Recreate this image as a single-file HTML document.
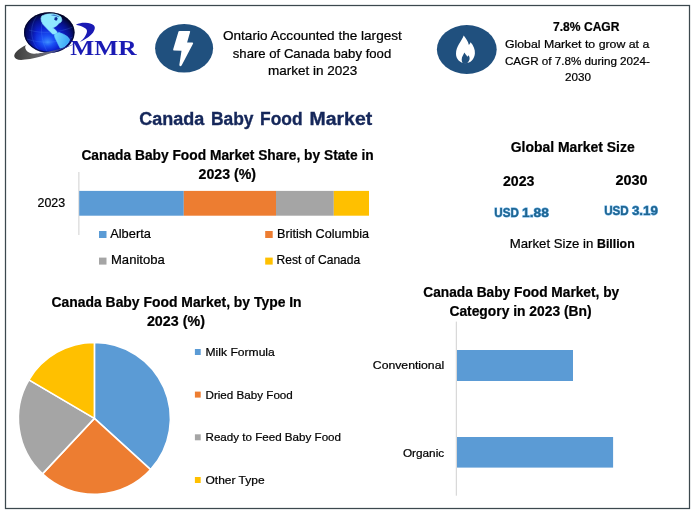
<!DOCTYPE html>
<html>
<head>
<meta charset="utf-8">
<title>Canada Baby Food Market</title>
<style>
html,body{margin:0;padding:0;background:#fff;}
body{width:698px;height:515px;overflow:hidden;}
svg{display:block;}
text{font-family:"Liberation Sans",sans-serif;fill:#000;stroke:#000;stroke-width:0.22px;}
.b{font-weight:bold;}
.serif{font-family:"Liberation Serif",serif;}
</style>
</head>
<body>
<svg width="698" height="515" viewBox="0 0 698 515">
<defs>
<radialGradient id="globe" cx="0.46" cy="0.6" r="0.58" fx="0.47" fy="0.74">
<stop offset="0" stop-color="#3a8cff"/>
<stop offset="0.22" stop-color="#1a50f4"/>
<stop offset="0.5" stop-color="#0c22d2"/>
<stop offset="0.78" stop-color="#07128c"/>
<stop offset="1" stop-color="#02042a"/>
</radialGradient>
<filter id="soft" x="-10%" y="-10%" width="120%" height="120%"><feGaussianBlur stdDeviation="0.35"/></filter>
<linearGradient id="globe2" x1="0" y1="0" x2="1" y2="0">
<stop offset="0" stop-color="#000030" stop-opacity="0.55"/>
<stop offset="0.25" stop-color="#000030" stop-opacity="0"/>
<stop offset="1" stop-color="#000030" stop-opacity="0"/>
</linearGradient>
<linearGradient id="sa" x1="0" y1="0" x2="1" y2="0.3">
<stop offset="0" stop-color="#7adcff"/>
<stop offset="1" stop-color="#3aa8f8"/>
</linearGradient>
<linearGradient id="swoosh" x1="0" y1="0" x2="1" y2="0">
<stop offset="0" stop-color="#3c3c3c"/>
<stop offset="0.3" stop-color="#5a5a5a"/>
<stop offset="0.55" stop-color="#6a6a78"/>
<stop offset="0.75" stop-color="#2a38a0"/>
<stop offset="1" stop-color="#1a2890"/>
</linearGradient>
</defs>
<rect x="0" y="0" width="698" height="515" fill="#ffffff"/>
<rect x="5.5" y="5.5" width="684" height="503" fill="none" stroke="#3c484e" stroke-width="1.25"/>

<!-- logo -->
<g id="logo">
<ellipse cx="49.3" cy="32.5" rx="25.2" ry="20.3" fill="url(#globe)"/>
<ellipse cx="49.3" cy="32.5" rx="25.2" ry="20.3" fill="url(#globe2)"/>
<g fill="none" stroke="#5aa0ff" stroke-width="0.4" opacity="0.5">
<path d="M37 16 C29 26 30 42 40 51"/><path d="M45 13.5 C39 25 41 42 48 53"/><path d="M29 30 C42 34 58 33 73 27"/><path d="M27 39 C40 44 60 43 73 37"/>
</g>
<g filter="url(#soft)">
<path d="M41.9 15.9 L47.0 14.1 L52.6 13.6 L57.3 14.5 L61.0 16.9 L61.9 20.1 L61.0 22.0 L58.7 23.4 L57.3 25.2 L55.4 26.6 L53.6 27.4 L52.4 28.0 L54.7 29.2 L56.5 31.3 L57.3 33.3 L55.9 34.2 L52.6 33.9 L50.3 31.8 L47.9 29.4 L45.6 27.1 L43.0 24.3 L41.4 21.0 L41.0 18.2 Z" fill="#8fe8ff" stroke="#8fe8ff" stroke-width="0.7" stroke-linejoin="round"/>
<path d="M55.9 33.6 L59.1 32.5 L63.8 34.4 L67.5 36.7 L69.6 39.7 L68.6 42.2 L65.9 45.5 L62.9 47.9 L60.3 48.3 L58.7 45.3 L56.9 41.5 L55.0 37.8 L54.3 35.0 Z" fill="url(#sa)" stroke="#5cc8ff" stroke-width="0.7" stroke-linejoin="round"/>
<path d="M54.6 17.4 L56.6 17 L57.6 18.6 L57 20.4 L55.4 20.6 L54.4 19.2 Z" fill="#0e2a96"/>
<path d="M50.5 15 L54 14.6 L57 15.4 L59.4 16.8 L58.6 17.2 L56 16.2 L53 15.8 Z" fill="#2a60c8" opacity="0.8"/>

</g>
<ellipse cx="49.3" cy="32.5" rx="24.7" ry="19.8" fill="none" stroke="#02052a" stroke-width="1.1" opacity="0.75"/>
<path d="M26.3 45 C19 48.5 13.6 53 14.3 56.5 C15 59.6 19 60.4 25 59.6 C32 58.8 38 57.4 42.6 55.9 C50 53.6 58 50.6 64.4 48.2 C68 46.8 72 45 74.2 43.9 C71 45 68 46.2 64.4 47.2 C60 48.6 56 49.8 53.5 50.4 C49 51.6 46 52.4 42.6 52.8 C39 53.4 36 53.8 33.9 53.7 C31 53.5 28.8 52.8 27.4 51.5 C26 50.2 25 48.4 25.2 46.8 C25.4 46 25.8 45.4 26.3 45 Z" fill="url(#swoosh)"/>
</g>
<path d="M75.9 24.7 C79 23.2 82.5 22.6 85.6 22.8 C89 23 92 23.8 93.7 25.3 C95 26.5 95 28 94.6 29.3 C94 31.5 92.5 33.5 90.8 35.1 C88 37.8 84 40.2 79.9 41.9 C82 40.2 84 38.2 85.1 36.2 C86.3 34.4 87 32.6 87 31 C87 29.5 85.8 28.3 83.9 27.4 C81.5 26.2 78.5 25.2 75.9 24.7 Z" fill="#1a1ab4"/>
<text class="serif b" x="70.2" y="55.3" font-size="20.6" textLength="66.4" lengthAdjust="spacingAndGlyphs" style="fill:#1a1ab4;stroke:none">MMR</text>

<!-- lightning icon -->
<ellipse cx="184.1" cy="48.2" rx="29" ry="24.3" fill="#20507e"/>
<path d="M178.5 31.6 Q178.8 31 179.5 31 L189.3 31 Q190.5 31 190.1 32.1 L187.1 42.4 L192.4 42.4 Q193.6 42.6 193 43.8 L181.6 65.4 Q180.6 66.6 179.8 66 Q179.2 65.5 179.4 64.6 L181.5 50.8 L174 50.6 Q172.8 50.4 173.2 49.2 Z" fill="#ffffff"/>

<!-- top text 1 -->
<text x="223" y="40.2" font-size="12.9" textLength="178.8" lengthAdjust="spacingAndGlyphs">Ontario Accounted the largest</text>
<text x="232.8" y="57.7" font-size="12.9" textLength="158.4" lengthAdjust="spacingAndGlyphs">share of Canada baby food</text>
<text x="268" y="75.2" font-size="12.9" textLength="89.4" lengthAdjust="spacingAndGlyphs">market in 2023</text>

<!-- flame icon -->
<ellipse cx="466.8" cy="49.5" rx="29.9" ry="24.4" fill="#20507e"/>
<path d="M463.7 35.6 C466 38.5 468 41.5 468.9 45 C469.6 44.2 470.2 43.2 470.6 42.2 C473.5 45.5 475.2 49.5 474.9 53.5 C474.5 59 470.5 63.3 465.3 63.3 C460 63.3 456 59 456 53.8 C456 46.5 461.5 41.5 463.7 35.6 Z" fill="#ffffff"/>
<path d="M464.4 52.6 C465.4 54.4 466.6 55.2 467.2 56.8 C467.8 56.4 468.3 55.8 468.6 55.2 C469.8 57 470 59 469 60.8 C468.4 62 467.6 62.8 466.8 63.8 L463.4 63.8 C462.2 62.6 461.6 61 461.7 59.4 C461.8 56.6 463.6 54.8 464.4 52.6 Z" fill="#20507e"/>

<!-- top text 2 -->
<text class="b" x="553" y="30.9" font-size="13.2" textLength="66.5" lengthAdjust="spacingAndGlyphs">7.8% CAGR</text>
<text x="504.9" y="48.3" font-size="11.6" textLength="144.4" lengthAdjust="spacingAndGlyphs">Global Market to grow at a</text>
<text x="504.9" y="64.7" font-size="11.6" textLength="145" lengthAdjust="spacingAndGlyphs">CAGR of 7.8% during 2024-</text>
<text x="565" y="81.2" font-size="11.6" textLength="25.9" lengthAdjust="spacingAndGlyphs">2030</text>

<!-- main title -->
<text class="b" y="124.5" font-size="17.6" style="fill:#15275a;stroke:#15275a;stroke-width:0.35px"><tspan x="139.3" textLength="65" lengthAdjust="spacingAndGlyphs">Canada</tspan> <tspan x="210.9" textLength="42.6" lengthAdjust="spacingAndGlyphs">Baby</tspan> <tspan x="260" textLength="42.6" lengthAdjust="spacingAndGlyphs">Food</tspan> <tspan x="309.6" textLength="62.6" lengthAdjust="spacingAndGlyphs">Market</tspan></text>

<!-- chart 1 -->
<text class="b" x="81.4" y="160" font-size="14.1" textLength="292.3" lengthAdjust="spacingAndGlyphs">Canada Baby Food Market Share, by State in</text>
<text class="b" x="198.5" y="179.4" font-size="14.1" textLength="57.5" lengthAdjust="spacingAndGlyphs">2023 (%)</text>
<line x1="78.9" y1="172" x2="78.9" y2="235" stroke="#d0d0d0" stroke-width="1"/>
<rect x="79.2" y="190.9" width="104.6" height="24.8" fill="#5b9bd5"/>
<rect x="183.8" y="190.9" width="92.2" height="24.8" fill="#ed7d31"/>
<rect x="276" y="190.9" width="57.8" height="24.8" fill="#a5a5a5"/>
<rect x="333.8" y="190.9" width="35.2" height="24.8" fill="#ffc000"/>
<text x="37.5" y="206.9" font-size="12.5" textLength="27.6" lengthAdjust="spacingAndGlyphs">2023</text>
<rect x="99" y="231" width="7.5" height="7" fill="#5b9bd5"/>
<text x="110.2" y="237.5" font-size="13" textLength="40.7" lengthAdjust="spacingAndGlyphs">Alberta</text>
<rect x="265.2" y="231" width="7.5" height="7" fill="#ed7d31"/>
<text x="277" y="237.5" font-size="13" textLength="92" lengthAdjust="spacingAndGlyphs">British Columbia</text>
<rect x="99" y="257.6" width="7.5" height="7" fill="#a5a5a5"/>
<text x="111" y="264.2" font-size="13" textLength="53.7" lengthAdjust="spacingAndGlyphs">Manitoba</text>
<rect x="265.2" y="257.6" width="7.5" height="7" fill="#ffc000"/>
<text x="276.6" y="264.2" font-size="13" textLength="83.6" lengthAdjust="spacingAndGlyphs">Rest of Canada</text>

<!-- global market size -->
<text class="b" x="510.7" y="152" font-size="14.1" textLength="124" lengthAdjust="spacingAndGlyphs">Global Market Size</text>
<text class="b" x="502.9" y="186.1" font-size="14.4" textLength="31.5" lengthAdjust="spacingAndGlyphs">2023</text>
<text class="b" x="615.5" y="185.2" font-size="14.4" textLength="32.1" lengthAdjust="spacingAndGlyphs">2030</text>
<text class="b" y="216.5" font-size="12.2" style="fill:#1f6590;stroke:#5aa6e2;stroke-width:0.9;paint-order:stroke"><tspan x="494.3" textLength="24.5" lengthAdjust="spacingAndGlyphs">USD</tspan> <tspan x="522" textLength="26.8" lengthAdjust="spacingAndGlyphs">1.88</tspan></text>
<text class="b" y="214.5" font-size="12.2" style="fill:#1f6590;stroke:#5aa6e2;stroke-width:0.9;paint-order:stroke"><tspan x="604.2" textLength="24.5" lengthAdjust="spacingAndGlyphs">USD</tspan> <tspan x="631.9" textLength="26" lengthAdjust="spacingAndGlyphs">3.19</tspan></text>
<text x="509.8" y="247.5" font-size="13.2"><tspan textLength="87.2" lengthAdjust="spacingAndGlyphs">Market Size in </tspan><tspan class="b" textLength="37.7" lengthAdjust="spacingAndGlyphs">Billion</tspan></text>

<!-- pie -->
<text class="b" x="51.5" y="306.6" font-size="14.1" textLength="250.1" lengthAdjust="spacingAndGlyphs">Canada Baby Food Market, by Type In</text>
<text class="b" x="146.9" y="326.4" font-size="14.1" textLength="58" lengthAdjust="spacingAndGlyphs">2023 (%)</text>
<g id="pie" stroke="#ffffff" stroke-width="1.6" stroke-linejoin="round">
<path d="M94.4 418.4 L94.40 342.40 A76.0 76.0 0 0 1 150.61 469.55 Z" fill="#5b9bd5"/>
<path d="M94.4 418.4 L150.61 469.55 A76.0 76.0 0 0 1 42.47 473.89 Z" fill="#ed7d31"/>
<path d="M94.4 418.4 L42.47 473.89 A76.0 76.0 0 0 1 28.92 379.83 Z" fill="#a5a5a5"/>
<path d="M94.4 418.4 L28.92 379.83 A76.0 76.0 0 0 1 94.40 342.40 Z" fill="#ffc000"/>
</g>
<rect x="194.9" y="349" width="5.8" height="6" fill="#5b9bd5"/>
<text x="205.5" y="355.8" font-size="11.8" textLength="69.3" lengthAdjust="spacingAndGlyphs">Milk Formula</text>
<rect x="194.9" y="391.6" width="5.8" height="6" fill="#ed7d31"/>
<text x="205.5" y="398.6" font-size="11.8" textLength="87.3" lengthAdjust="spacingAndGlyphs">Dried Baby Food</text>
<rect x="194.9" y="434.3" width="5.8" height="6" fill="#a5a5a5"/>
<text x="205.5" y="440.8" font-size="11.8" textLength="135.5" lengthAdjust="spacingAndGlyphs">Ready to Feed Baby Food</text>
<rect x="194.9" y="477" width="5.8" height="6" fill="#ffc000"/>
<text x="205.5" y="483.6" font-size="11.8" textLength="59.1" lengthAdjust="spacingAndGlyphs">Other Type</text>

<!-- category chart -->
<text class="b" x="423.3" y="296.5" font-size="14.1" textLength="195.9" lengthAdjust="spacingAndGlyphs">Canada Baby Food Market, by</text>
<text class="b" x="449.4" y="315.5" font-size="14.1" textLength="142.2" lengthAdjust="spacingAndGlyphs">Category in 2023 (Bn)</text>
<line x1="456.3" y1="321.6" x2="456.3" y2="495.7" stroke="#d0d0d0" stroke-width="1"/>
<rect x="457" y="350" width="116" height="31" fill="#5b9bd5"/>
<rect x="457" y="437" width="156.1" height="30.6" fill="#5b9bd5"/>
<text x="372.8" y="368.7" font-size="11.3" textLength="71.4" lengthAdjust="spacingAndGlyphs">Conventional</text>
<text x="402.9" y="457" font-size="11.3" textLength="41.3" lengthAdjust="spacingAndGlyphs">Organic</text>
</svg>
</body>
</html>
